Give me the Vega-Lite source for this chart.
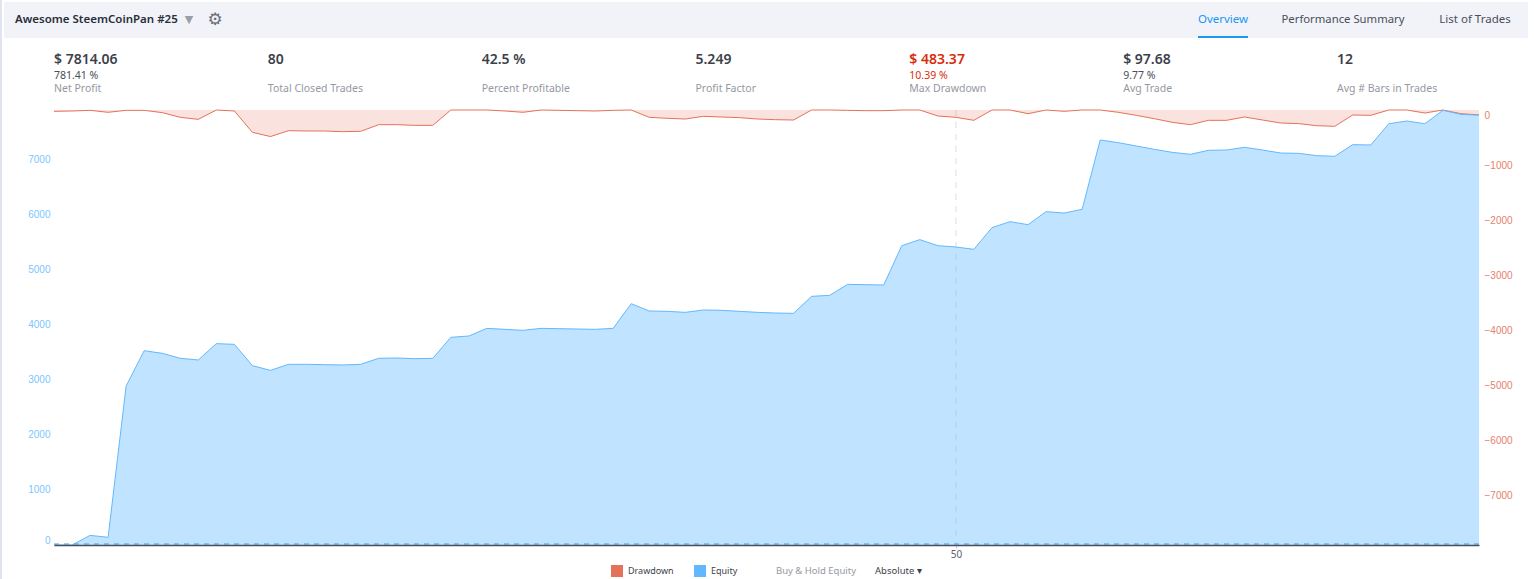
{
  "$schema": "https://vega.github.io/schema/vega-lite/v6.json",
  "autosize": {"type": "none"},
  "padding": {"left": 54, "top": 110, "right": 55, "bottom": 34},
  "width": 1425,
  "height": 435,
  "background": "#ffffff",
  "config": {
    "view": {"stroke": null},
    "text": {"font": "Noto Sans"}
  },
  "datasets": {
    "trades": [
      {"trade": 0, "equity": 0, "drawdown": -24},
      {"trade": 1, "equity": 0, "drawdown": -18},
      {"trade": 2, "equity": 175, "drawdown": -6},
      {"trade": 3, "equity": 140, "drawdown": -42},
      {"trade": 4, "equity": 2891, "drawdown": -6},
      {"trade": 5, "equity": 3533, "drawdown": -6},
      {"trade": 6, "equity": 3485, "drawdown": -48},
      {"trade": 7, "equity": 3394, "drawdown": -133},
      {"trade": 8, "equity": 3364, "drawdown": -170},
      {"trade": 9, "equity": 3661, "drawdown": 0},
      {"trade": 10, "equity": 3648, "drawdown": -18},
      {"trade": 11, "equity": 3261, "drawdown": -406},
      {"trade": 12, "equity": 3175, "drawdown": -483},
      {"trade": 13, "equity": 3285, "drawdown": -376},
      {"trade": 14, "equity": 3285, "drawdown": -382},
      {"trade": 15, "equity": 3279, "drawdown": -382},
      {"trade": 16, "equity": 3273, "drawdown": -394},
      {"trade": 17, "equity": 3285, "drawdown": -388},
      {"trade": 18, "equity": 3394, "drawdown": -267},
      {"trade": 19, "equity": 3400, "drawdown": -267},
      {"trade": 20, "equity": 3388, "drawdown": -279},
      {"trade": 21, "equity": 3394, "drawdown": -279},
      {"trade": 22, "equity": 3776, "drawdown": 0},
      {"trade": 23, "equity": 3800, "drawdown": 0},
      {"trade": 24, "equity": 3939, "drawdown": 0},
      {"trade": 25, "equity": 3921, "drawdown": -18},
      {"trade": 26, "equity": 3903, "drawdown": -42},
      {"trade": 27, "equity": 3939, "drawdown": 0},
      {"trade": 28, "equity": 3933, "drawdown": -6},
      {"trade": 29, "equity": 3927, "drawdown": -12},
      {"trade": 30, "equity": 3921, "drawdown": -18},
      {"trade": 31, "equity": 3939, "drawdown": -6},
      {"trade": 32, "equity": 4388, "drawdown": 0},
      {"trade": 33, "equity": 4255, "drawdown": -133},
      {"trade": 34, "equity": 4248, "drawdown": -151},
      {"trade": 35, "equity": 4230, "drawdown": -164},
      {"trade": 36, "equity": 4273, "drawdown": -115},
      {"trade": 37, "equity": 4267, "drawdown": -127},
      {"trade": 38, "equity": 4248, "drawdown": -139},
      {"trade": 39, "equity": 4230, "drawdown": -164},
      {"trade": 40, "equity": 4218, "drawdown": -176},
      {"trade": 41, "equity": 4212, "drawdown": -182},
      {"trade": 42, "equity": 4521, "drawdown": 0},
      {"trade": 43, "equity": 4539, "drawdown": 0},
      {"trade": 44, "equity": 4739, "drawdown": -6},
      {"trade": 45, "equity": 4733, "drawdown": -12},
      {"trade": 46, "equity": 4727, "drawdown": -12},
      {"trade": 47, "equity": 5442, "drawdown": 0},
      {"trade": 48, "equity": 5552, "drawdown": 0},
      {"trade": 49, "equity": 5442, "drawdown": -109},
      {"trade": 50, "equity": 5418, "drawdown": -133},
      {"trade": 51, "equity": 5376, "drawdown": -188},
      {"trade": 52, "equity": 5770, "drawdown": 0},
      {"trade": 53, "equity": 5879, "drawdown": 0},
      {"trade": 54, "equity": 5824, "drawdown": -67},
      {"trade": 55, "equity": 6061, "drawdown": 0},
      {"trade": 56, "equity": 6036, "drawdown": -24},
      {"trade": 57, "equity": 6103, "drawdown": 0},
      {"trade": 58, "equity": 7364, "drawdown": 0},
      {"trade": 59, "equity": 7315, "drawdown": -42},
      {"trade": 60, "equity": 7255, "drawdown": -97},
      {"trade": 61, "equity": 7194, "drawdown": -158},
      {"trade": 62, "equity": 7139, "drawdown": -224},
      {"trade": 63, "equity": 7103, "drawdown": -267},
      {"trade": 64, "equity": 7176, "drawdown": -188},
      {"trade": 65, "equity": 7182, "drawdown": -188},
      {"trade": 66, "equity": 7230, "drawdown": -127},
      {"trade": 67, "equity": 7182, "drawdown": -182},
      {"trade": 68, "equity": 7127, "drawdown": -236},
      {"trade": 69, "equity": 7121, "drawdown": -248},
      {"trade": 70, "equity": 7079, "drawdown": -285},
      {"trade": 71, "equity": 7067, "drawdown": -297},
      {"trade": 72, "equity": 7279, "drawdown": -91},
      {"trade": 73, "equity": 7273, "drawdown": -97},
      {"trade": 74, "equity": 7660, "drawdown": 0},
      {"trade": 75, "equity": 7709, "drawdown": 0},
      {"trade": 76, "equity": 7660, "drawdown": -55},
      {"trade": 77, "equity": 7903, "drawdown": 0},
      {"trade": 78, "equity": 7830, "drawdown": -67},
      {"trade": 79, "equity": 7814, "drawdown": -89}
    ],
    "stats": [
      {"stat": "Net Profit", "value": "$ 7814.06", "sub": "781.41 %"},
      {"stat": "Total Closed Trades", "value": "80", "sub": ""},
      {"stat": "Percent Profitable", "value": "42.5 %", "sub": ""},
      {"stat": "Profit Factor", "value": "5.249", "sub": ""},
      {"stat": "Max Drawdown", "value": "$ 483.37", "sub": "10.39 %"},
      {"stat": "Avg Trade", "value": "$ 97.68", "sub": "9.77 %"},
      {"stat": "Avg # Bars in Trades", "value": "12", "sub": ""}
    ]
  },
  "resolve": {
    "scale": {"x": "independent", "y": "independent", "color": "independent"},
    "axis": {"x": "independent", "y": "independent"}
  },
  "layer": [
    {
      "data": {"values": [{"part": "page edge"}]},
      "mark": {"type": "rect", "fill": "#e0e3f0"},
      "encoding": {
        "x": {"field": "part", "type": "nominal", "axis": null, "scale": {"range": [-54, -52], "paddingInner": 0, "paddingOuter": 0}},
        "y": {"field": "part", "type": "nominal", "axis": null, "scale": {"range": [-110, 469], "paddingInner": 0, "paddingOuter": 0}}
      }
    },
    {
      "data": {"values": [{"part": "toolbar"}]},
      "mark": {"type": "rect", "fill": "#f1f3f8"},
      "encoding": {
        "x": {"field": "part", "type": "nominal", "axis": null, "scale": {"range": [-50, 1474], "paddingInner": 0, "paddingOuter": 0}},
        "y": {"field": "part", "type": "nominal", "axis": null, "scale": {"range": [-108, -72], "paddingInner": 0, "paddingOuter": 0}}
      }
    },
    {
      "data": {"values": [{"part": "active tab"}]},
      "mark": {"type": "rect", "fill": "#2196f3"},
      "encoding": {
        "x": {"field": "part", "type": "nominal", "axis": null, "scale": {"range": [1144, 1194], "paddingInner": 0, "paddingOuter": 0}},
        "y": {"field": "part", "type": "nominal", "axis": null, "scale": {"range": [-74, -72], "paddingInner": 0, "paddingOuter": 0}}
      }
    },
    {
      "data": {"values": [{"label": "Awesome SteemCoinPan #25"}]},
      "mark": {"type": "text", "align": "left", "baseline": "middle", "fontSize": 11.5, "fontWeight": 600, "color": "#2a2e39"},
      "encoding": {
        "x": {"field": "label", "type": "nominal", "axis": null, "scale": {"range": [-39, -39], "padding": 0}},
        "y": {"field": "label", "type": "nominal", "axis": null, "scale": {"range": [-90, -90], "padding": 0}},
        "text": {"field": "label"}
      }
    },
    {
      "data": {"values": [{"icon": "▼"}]},
      "mark": {"type": "text", "align": "center", "baseline": "middle", "fontSize": 11, "font": "DejaVu Sans", "color": "#9a9ea8"},
      "encoding": {
        "x": {"field": "icon", "type": "nominal", "axis": null, "scale": {"range": [135, 135], "padding": 0}},
        "y": {"field": "icon", "type": "nominal", "axis": null, "scale": {"range": [-90, -90], "padding": 0}},
        "text": {"field": "icon"}
      }
    },
    {
      "data": {"values": [{"icon": "⚙"}]},
      "mark": {"type": "text", "align": "center", "baseline": "middle", "fontSize": 17, "font": "DejaVu Sans", "color": "#6a6d78"},
      "encoding": {
        "x": {"field": "icon", "type": "nominal", "axis": null, "scale": {"range": [161, 161], "padding": 0}},
        "y": {"field": "icon", "type": "nominal", "axis": null, "scale": {"range": [-90, -90], "padding": 0}},
        "text": {"field": "icon"}
      }
    },
    {
      "data": {"values": [{"tab": "Overview"}, {"tab": "List of Trades"}]},
      "mark": {"type": "text", "align": "center", "baseline": "middle", "fontSize": 11.5},
      "encoding": {
        "x": {"field": "tab", "type": "nominal", "axis": null, "sort": null, "scale": {"range": [1169, 1421], "padding": 0}},
        "y": {"field": "tab", "type": "nominal", "axis": null, "scale": {"range": [-90, -90], "padding": 0}},
        "color": {"condition": {"test": "datum.tab === 'Overview'", "value": "#2196f3"}, "value": "#4a4e59"},
        "text": {"field": "tab"}
      }
    },
    {
      "data": {"values": [{"tab": "Performance Summary"}]},
      "mark": {"type": "text", "align": "center", "baseline": "middle", "fontSize": 11.3, "color": "#4a4e59"},
      "encoding": {
        "x": {"field": "tab", "type": "nominal", "axis": null, "scale": {"range": [1289, 1289], "padding": 0}},
        "y": {"field": "tab", "type": "nominal", "axis": null, "scale": {"range": [-90, -90], "padding": 0}},
        "text": {"field": "tab"}
      }
    },
    {
      "data": {"name": "stats"},
      "mark": {"type": "text", "align": "left", "baseline": "middle", "fontSize": 14, "fontWeight": 600},
      "encoding": {
        "x": {"field": "stat", "type": "nominal", "axis": null, "sort": null, "scale": {"range": [0, 1283], "padding": 0}},
        "y": {"datum": "value", "type": "nominal", "axis": null, "scale": {"domain": ["value"], "range": [-50, -50], "padding": 0}},
        "color": {"condition": {"test": "datum.stat === 'Max Drawdown'", "value": "#d92b0b"}, "value": "#3d3f4a"},
        "text": {"field": "value"}
      }
    },
    {
      "data": {"name": "stats"},
      "mark": {"type": "text", "align": "left", "baseline": "middle", "fontSize": 10.5},
      "encoding": {
        "x": {"field": "stat", "type": "nominal", "axis": null, "sort": null, "scale": {"range": [0, 1283], "padding": 0}},
        "y": {"datum": "sub", "type": "nominal", "axis": null, "scale": {"domain": ["sub"], "range": [-34, -34], "padding": 0}},
        "color": {"condition": {"test": "datum.stat === 'Max Drawdown'", "value": "#d92b0b"}, "value": "#4a4e59"},
        "text": {"field": "sub"}
      }
    },
    {
      "data": {"name": "stats"},
      "mark": {"type": "text", "align": "left", "baseline": "middle", "fontSize": 10.5, "color": "#9598a1"},
      "encoding": {
        "x": {"field": "stat", "type": "nominal", "axis": null, "sort": null, "scale": {"range": [0, 1283], "padding": 0}},
        "y": {"datum": "label", "type": "nominal", "axis": null, "scale": {"domain": ["label"], "range": [-21, -21], "padding": 0}},
        "text": {"field": "stat"}
      }
    },
    {
      "data": {"values": [{"item": "Buy & Hold Equity"}]},
      "mark": {"type": "text", "align": "left", "baseline": "middle", "fontSize": 9.5, "color": "#9598a1"},
      "encoding": {
        "x": {"field": "item", "type": "nominal", "axis": null, "scale": {"range": [722, 722], "padding": 0}},
        "y": {"field": "item", "type": "nominal", "axis": null, "scale": {"range": [461, 461], "padding": 0}},
        "text": {"field": "item"}
      }
    },
    {
      "data": {"values": [{"item": "Absolute ▾"}]},
      "mark": {"type": "text", "align": "left", "baseline": "middle", "fontSize": 9.5, "color": "#3d3f4a"},
      "encoding": {
        "x": {"field": "item", "type": "nominal", "axis": null, "scale": {"range": [821, 821], "padding": 0}},
        "y": {"field": "item", "type": "nominal", "axis": null, "scale": {"range": [461, 461], "padding": 0}},
        "text": {"field": "item"}
      }
    },
    {
      "data": {"values": [{"trade": 50}]},
      "mark": {"type": "rule", "color": "#d8dde6", "strokeWidth": 1, "strokeDash": [6, 6]},
      "encoding": {
        "x": {
          "field": "trade", "type": "quantitative", "scale": {"domain": [0, 79]},
          "axis": {"title": null, "values": [50], "grid": false, "zindex": 1, "labelColor": "#5d606b", "labelFontSize": 10, "labelFont": "Noto Sans", "tickColor": "#c8ccd4", "tickSize": 3, "labelPadding": 1, "domainColor": "#4a4e59", "domainWidth": 1.5}
        }
      }
    },
    {
      "resolve": {"scale": {"y": "independent"}, "axis": {"y": "independent"}},
      "layer": [
        {
          "data": {"name": "trades"},
          "transform": [{"calculate": "'Drawdown'", "as": "series"}],
          "mark": {"type": "area", "fillOpacity": 0.2, "line": {"strokeWidth": 1}},
          "encoding": {
            "x": {"field": "trade", "type": "quantitative", "axis": null, "scale": {"domain": [0, 79]}},
            "y": {
              "field": "drawdown", "type": "quantitative",
              "scale": {"domain": [-7909, 0], "nice": false},
              "axis": {"orient": "right", "title": null, "values": [-7000, -6000, -5000, -4000, -3000, -2000, -1000, 0], "format": "d", "domain": false, "ticks": false, "grid": false, "labelColor": "#e5816c", "labelFont": "Liberation Sans", "labelFontSize": 10, "labelFlush": true, "labelPadding": 5}
            },
            "color": {
              "field": "series", "type": "nominal",
              "scale": {"domain": ["Drawdown", "Equity"], "range": ["#e4725a", "#62b8ff"]},
              "legend": {"orient": "none", "legendX": 557, "legendY": 455, "direction": "horizontal", "title": null, "symbolType": "square", "symbolSize": 144, "symbolOpacity": 1, "symbolStrokeWidth": 0, "labelFont": "Noto Sans", "labelFontSize": 9, "labelColor": "#3d3f4a", "columnPadding": 20, "labelOffset": 5, "padding": 0}
            }
          }
        },
        {
          "data": {"name": "trades"},
          "transform": [{"calculate": "'Equity'", "as": "series"}],
          "mark": {"type": "area", "fillOpacity": 0.4, "line": {"strokeWidth": 1}},
          "encoding": {
            "x": {"field": "trade", "type": "quantitative", "axis": null, "scale": {"domain": [0, 79]}},
            "y": {
              "field": "equity", "type": "quantitative",
              "scale": {"domain": [0, 7909], "nice": false},
              "axis": {"orient": "left", "title": null, "values": [0, 1000, 2000, 3000, 4000, 5000, 6000, 7000], "format": "d", "domain": false, "ticks": false, "grid": false, "labelColor": "#7cc6ff", "labelFont": "Liberation Sans", "labelFontSize": 10, "labelFlush": true, "labelPadding": 4}
            },
            "color": {"field": "series", "type": "nominal"}
          }
        },
        {
          "data": {"values": [{"baseline": 0}]},
          "mark": {"type": "rule", "color": "#3f9fec", "strokeWidth": 1, "strokeDash": [5, 5], "yOffset": -1},
          "encoding": {
            "y": {"field": "baseline", "type": "quantitative", "axis": null, "scale": {"domain": [0, 7909], "nice": false}}
          }
        }
      ]
    }
  ]
}
